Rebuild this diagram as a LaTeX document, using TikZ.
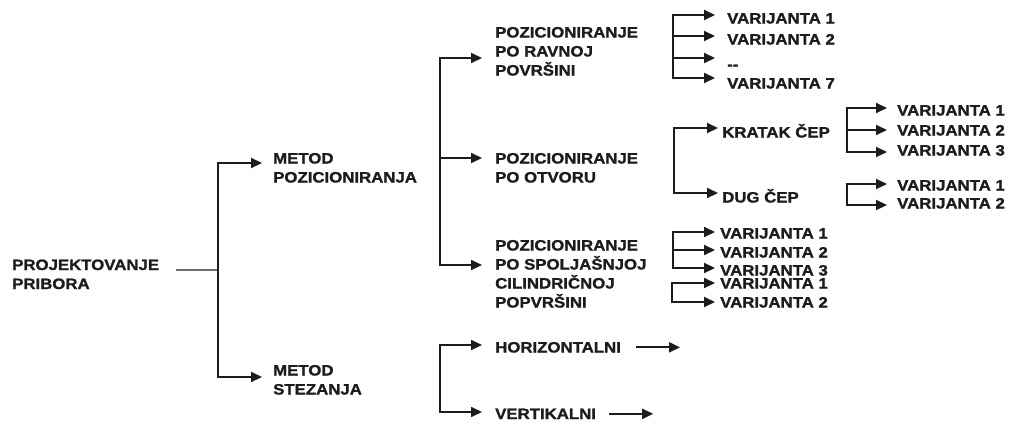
\documentclass[tikz,border=0pt]{standalone}
\usepackage{fontspec}
\newfontfamily\lblfont{Liberation Sans}[FakeStretch=1.12, BoldFeatures={FakeBold=1.4}]
\usetikzlibrary{arrows.meta}
\definecolor{ink}{HTML}{1C1C1C}
\definecolor{soft}{HTML}{6E6E6E}
\tikzset{
  % multi-line labels are anchored at the baseline of their last line
  lbl/.style={font=\lblfont\bfseries\fontsize{15}{19}\selectfont, text=ink,
              inner sep=0pt, anchor=base west, align=left},
  wire/.style={draw=ink, line width=2pt},
  arr/.style={wire, -{Triangle[length=11pt,width=10pt]}},
  rootwire/.style={draw=soft, line width=1.6pt},
}
\begin{document}
\begin{tikzpicture}[x=1pt,y=-1pt]
\useasboundingbox (0,0) rectangle (1011,423);

% ---- texts ----
\node[lbl] (root) at (12,289) {PROJEKTOVANJE\\PRIBORA};
\node[lbl] (m1) at (273,182.5) {METOD\\POZICIONIRANJA};
\node[lbl] (m2) at (273,394.5) {METOD\\STEZANJA};
\node[lbl] (p1) at (495,75.5) {POZICIONIRANJE\\PO RAVNOJ\\POVRŠINI};
\node[lbl] (p2) at (495,182.5) {POZICIONIRANJE\\PO OTVORU};
\node[lbl] (p3) at (495,307.5) {POZICIONIRANJE\\PO SPOLJAŠNJOJ\\CILINDRIČNOJ\\POPVRŠINI};
\node[lbl] (h) at (495,352.5) {HORIZONTALNI};
\node[lbl] (v) at (495,419) {VERTIKALNI};
\node[lbl] (k) at (722,137.5) {KRATAK ČEP};
\node[lbl] (d) at (722,202.5) {DUG ČEP};

\node[lbl] (a1) at (727,23.5) {VARIJANTA 1};
\node[lbl] (a2) at (727,44.5) {VARIJANTA 2};
\node[lbl] (a3) at (727,69.5) {-{}-};
\node[lbl] (a7) at (727,88.5) {VARIJANTA 7};

\node[lbl] (k1) at (897,115.5) {VARIJANTA 1};
\node[lbl] (k2) at (897,135.5) {VARIJANTA 2};
\node[lbl] (k3) at (897,155.5) {VARIJANTA 3};

\node[lbl] (d1) at (897,190.5) {VARIJANTA 1};
\node[lbl] (d2) at (897,208.5) {VARIJANTA 2};

\node[lbl] (s1) at (720,238.5) {VARIJANTA 1};
\node[lbl] (s2) at (720,257.5) {VARIJANTA 2};
\node[lbl] (s3) at (720,275.5) {VARIJANTA 3};
\node[lbl] (t1) at (720,288.5) {VARIJANTA 1};
\node[lbl] (t2) at (720,307.5) {VARIJANTA 2};

% ---- junctions and arrow ends ----
\coordinate (r0) at (176,270);
\coordinate (j0) at (218,270);
\coordinate (em1) at (262,163);
\coordinate (em2) at (262,377);

\coordinate (j1) at (440,158);
\coordinate (ep1) at (482,58);
\coordinate (ep2) at (482,158);
\coordinate (ep3) at (482,265);

\coordinate (j2) at (440,380);
\coordinate (eh) at (482,345);
\coordinate (ev) at (482,412);

\coordinate (j3) at (673,36);
\coordinate (ea1) at (715,15);
\coordinate (ea2) at (715,36);
\coordinate (ea3) at (715,58);
\coordinate (ea7) at (715,78);

\coordinate (j4) at (674,160);
\coordinate (ek) at (718,128);
\coordinate (ed) at (718,193);

\coordinate (j5) at (847,130);
\coordinate (ek1) at (887,108);
\coordinate (ek2) at (887,130);
\coordinate (ek3) at (887,152);

\coordinate (j6) at (847,195);
\coordinate (ed1) at (887,184);
\coordinate (ed2) at (887,205);

\coordinate (j7) at (673,250);
\coordinate (es1) at (715,232);
\coordinate (es2) at (715,250);
\coordinate (es3) at (715,268);

\coordinate (j8) at (672,292);
\coordinate (et1) at (715,283);
\coordinate (et2) at (715,302);

% ---- connectors ----
\draw[rootwire] (r0) -- (j0);
\draw[arr] (j0) |- (em1);
\draw[arr] (j0) |- (em2);

\draw[arr] (j1) |- (ep1);
\draw[arr] (j1) -- (ep2);
\draw[arr] (j1) |- (ep3);

\draw[arr] (j2) |- (eh);
\draw[arr] (j2) |- (ev);
\draw[arr] ([xshift=15pt]h.east) -- ++(44,0);
\draw[arr] ([xshift=13pt]v.east) -- ++(44,0);

\draw[arr] (j3) |- (ea1);
\draw[arr] (j3) -- (ea2);
\draw[arr] (j3) |- (ea3);
\draw[arr] (j3) |- (ea7);

\draw[arr] (j4) |- (ek);
\draw[arr] (j4) |- (ed);

\draw[arr] (j5) |- (ek1);
\draw[arr] (j5) -- (ek2);
\draw[arr] (j5) |- (ek3);

\draw[arr] (j6) |- (ed1);
\draw[arr] (j6) |- (ed2);

\draw[arr] (j7) |- (es1);
\draw[arr] (j7) -- (es2);
\draw[arr] (j7) |- (es3);

\draw[arr] (j8) |- (et1);
\draw[arr] (j8) |- (et2);
\end{tikzpicture}
\end{document}
